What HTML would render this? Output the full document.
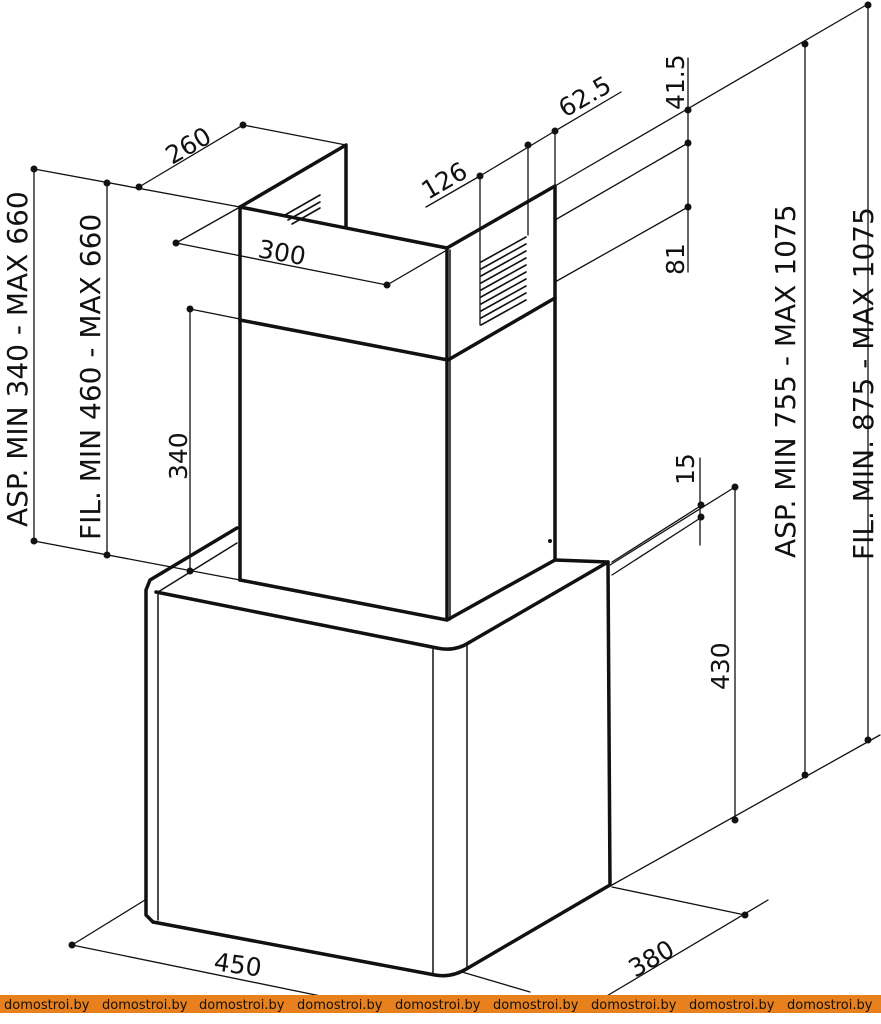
<!DOCTYPE html>
<html><head><meta charset="utf-8"><style>
html,body{margin:0;padding:0;background:#fff;}
svg{display:block;}
text{font-family:"DejaVu Sans","Liberation Sans",sans-serif;fill:#111;}
</style></head><body>
<svg width="881" height="1024" viewBox="0 0 881 1024" xmlns="http://www.w3.org/2000/svg">
<g stroke="#111" fill="none" stroke-linecap="round" stroke-linejoin="round">
<g stroke-width="1.3">
<line x1="34" y1="169" x2="240" y2="207"/>
<line x1="34" y1="541" x2="240" y2="580"/>
<line x1="34" y1="169" x2="34" y2="541"/>
<line x1="107" y1="183" x2="107" y2="555"/>
<line x1="190" y1="309" x2="240" y2="319"/>
<line x1="190" y1="309" x2="190" y2="571"/>
<line x1="139" y1="187" x2="243" y2="125"/>
<line x1="243" y1="125" x2="346" y2="145"/>
<line x1="176" y1="243" x2="240" y2="207"/>
<line x1="176" y1="243" x2="387" y2="285"/>
<line x1="387" y1="285" x2="447" y2="250"/>
<line x1="426" y1="207" x2="480" y2="176"/>
<line x1="480" y1="176" x2="555" y2="131"/>
<line x1="555" y1="131" x2="621" y2="92"/>
<line x1="480" y1="176" x2="480" y2="325"/>
<line x1="528" y1="145" x2="528" y2="235"/>
<line x1="555" y1="131" x2="555" y2="185"/>
<line x1="555" y1="186" x2="868" y2="4"/>
<line x1="555" y1="220" x2="688" y2="143"/>
<line x1="555" y1="282" x2="688" y2="207"/>
<line x1="688" y1="58" x2="688" y2="272"/>
<line x1="805" y1="45" x2="805" y2="775"/>
<line x1="868" y1="5" x2="868" y2="740"/>
<line x1="610" y1="565" x2="735" y2="487"/>
<line x1="612" y1="562" x2="702" y2="505"/>
<line x1="612" y1="575" x2="702" y2="517"/>
<line x1="700" y1="458" x2="700" y2="545"/>
<line x1="735" y1="487" x2="735" y2="820"/>
<line x1="612" y1="885" x2="880" y2="735"/>
<line x1="612" y1="887" x2="745" y2="915"/>
<line x1="768" y1="900" x2="600" y2="1000"/>
<line x1="72" y1="945" x2="145" y2="900"/>
<line x1="72" y1="945" x2="340" y2="1000"/>
<line x1="462" y1="972" x2="530" y2="992"/>
</g>
<g stroke-width="3.5">
<polyline points="240,207 346,145 346,226"/>
<polyline points="240,207 447,248 555,186 555,298"/>
<line x1="240" y1="207" x2="240" y2="580"/>
<polyline points="240,320 448,360 555,298"/>
<line x1="447" y1="248" x2="447" y2="620"/>
<line x1="555" y1="298" x2="555" y2="560"/>
<polyline points="240,580 447,620 555,560"/>
<polyline points="237,528 150,580 146,590 146,915 153,922"/>
<path d="M156,592 L437,648 Q455,652 470,642 L608,562 L610,885"/>
<path d="M153,922 L435,975 Q452,978 468,968 L610,885"/>
<line x1="555" y1="560" x2="608" y2="562"/>
</g>
<g stroke-width="1.5">
<line x1="450" y1="250" x2="450" y2="620"/>
<line x1="158" y1="592" x2="158" y2="920"/>
<line x1="433" y1="648" x2="433" y2="975"/>
<line x1="467" y1="645" x2="467" y2="968"/>
<line x1="158" y1="592" x2="237" y2="543"/>
</g>
<g stroke-width="1.6">
<path d="M481,262 l45,-25 M481,269 l45,-25 M481,276 l45,-25 M481,283 l45,-25 M481,290 l45,-25 M481,297 l45,-25 M481,304 l45,-25 M481,311 l45,-25 M481,318 l45,-25 M481,325 l45,-25"/>
<path d="M285,215 l35,-20 M288,220 l32,-18 M292,224 l28,-16"/>
</g>
</g>
<g fill="#111">
<circle cx="34" cy="169" r="3.5"/><circle cx="34" cy="541" r="3.5"/>
<circle cx="107" cy="183" r="3.5"/><circle cx="107" cy="555" r="3.5"/>
<circle cx="139" cy="187" r="3.5"/><circle cx="243" cy="125" r="3.5"/>
<circle cx="176" cy="243" r="3.5"/><circle cx="387" cy="285" r="3.5"/>
<circle cx="190" cy="309" r="3.5"/><circle cx="190" cy="571" r="3.5"/>
<circle cx="480" cy="176" r="3.5"/><circle cx="528" cy="145" r="3.5"/><circle cx="555" cy="131" r="3.5"/>
<circle cx="688" cy="110" r="3.5"/><circle cx="688" cy="143" r="3.5"/><circle cx="688" cy="207" r="3.5"/>
<circle cx="805" cy="44" r="3.5"/><circle cx="868" cy="5" r="3.5"/>
<circle cx="805" cy="775" r="3.5"/><circle cx="868" cy="740" r="3.5"/>
<circle cx="701" cy="505" r="3.5"/><circle cx="701" cy="517" r="3.5"/>
<circle cx="735" cy="487" r="3.5"/><circle cx="735" cy="820" r="3.5"/>
<circle cx="745" cy="915" r="3.5"/><circle cx="72" cy="945" r="3.5"/>
<circle cx="550" cy="541" r="2"/>
</g>
<g font-size="25">
<text transform="translate(27,527) rotate(-90)" font-size="28">ASP. MIN 340 - MAX 660</text>
<text transform="translate(100,540) rotate(-90)" font-size="28">FIL. MIN 460 - MAX 660</text>
<text transform="translate(187,480) rotate(-90)">340</text>
<text transform="translate(172,165) rotate(-30)">260</text>
<text transform="translate(257,257) rotate(10)">300</text>
<text transform="translate(428,200) rotate(-30)">126</text>
<text transform="translate(565,118) rotate(-30)">62.5</text>
<text transform="translate(684,110) rotate(-90)">41.5</text>
<text transform="translate(684,275) rotate(-90)">81</text>
<text transform="translate(694,485) rotate(-90)">15</text>
<text transform="translate(729,690) rotate(-90)">430</text>
<text transform="translate(795,558) rotate(-90)" font-size="28">ASP. MIN 755 - MAX 1075</text>
<text transform="translate(873,560) rotate(-90)" font-size="28">FIL. MIN. 875 - MAX 1075</text>
<text transform="translate(213,970) rotate(8)">450</text>
<text transform="translate(635,978) rotate(-30)">380</text>
</g>
<rect x="0" y="995" width="881" height="18" fill="#e8801e"/>
<g font-size="13" style="font-family:'Liberation Sans',sans-serif">
<text x="4" y="1009" fill="#fff">domostroi.by</text>
<text x="102" y="1009" fill="#fff">domostroi.by</text>
<text x="199" y="1009" fill="#fff">domostroi.by</text>
<text x="297" y="1009" fill="#fff">domostroi.by</text>
<text x="395" y="1009" fill="#fff">domostroi.by</text>
<text x="493" y="1009" fill="#fff">domostroi.by</text>
<text x="591" y="1009" fill="#fff">domostroi.by</text>
<text x="689" y="1009" fill="#fff">domostroi.by</text>
<text x="787" y="1009" fill="#fff">domostroi.by</text>
</g>
</svg>
</body></html>
